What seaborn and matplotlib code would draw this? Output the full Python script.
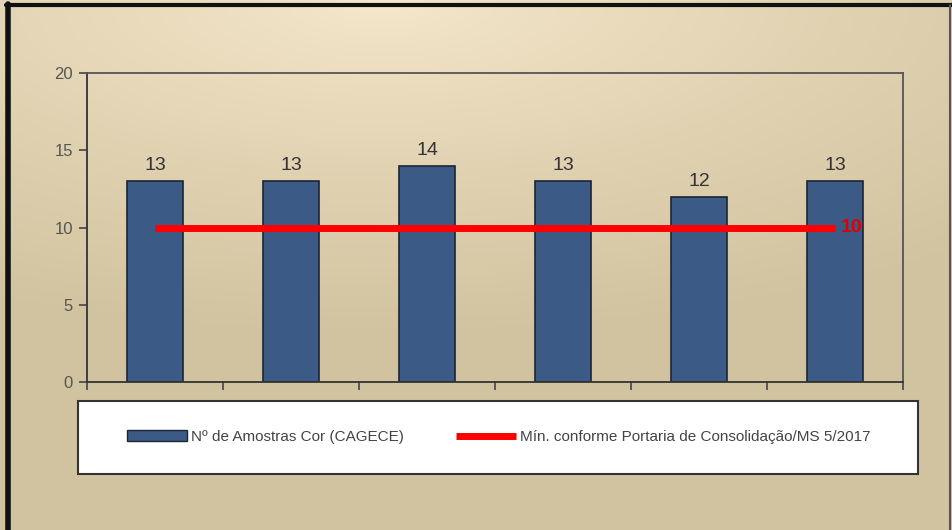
import matplotlib
matplotlib.use("Agg")
import matplotlib.pyplot as plt
import matplotlib.patches as mpatches
import matplotlib.lines as mlines
import numpy as np
import pandas as pd
import seaborn as sns

categories = ['1', '2', '3', '4', '5', '6']
amostras = [13, 13, 14, 13, 12, 13]
minimo = [10, 10, 10, 10, 10, 10]
label_bar = 'Nº de Amostras Cor (CAGECE)'
label_line = 'Mín. conforme Portaria de Consolidação/MS 5/2017'

sns.set_theme(style='white')
plt.rcParams['font.family'] = ['Liberation Sans', 'DejaVu Sans']

bar_color = '#3b5a86'
bg_light = np.array([0.965, 0.912, 0.800])
bg_dark = np.array([0.825, 0.768, 0.628])

fig = plt.figure(figsize=(9.53, 5.30), dpi=100)

# gradient background
bg = fig.add_axes([0, 0, 1, 1], zorder=-10)
yy, xx = np.mgrid[0:1:300j, 0:1:500j]
d = np.sqrt(((xx - 0.40) * 1.1) ** 2 + ((yy - 0.0) * 1.6) ** 2)
t = np.clip(d / 1.0, 0, 1) ** 0.8
img = bg_light[None, None, :] * (1 - t[..., None]) + bg_dark[None, None, :] * t[..., None]
bg.imshow(img, aspect='auto', extent=[0, 1, 0, 1], origin='upper')
bg.set_axis_off()

# frame lines of the picture
fig.add_artist(mlines.Line2D([0.008, 0.008], [0, 0.992], color='#111111', lw=4, transform=fig.transFigure))
fig.add_artist(mlines.Line2D([0.006, 1], [0.991, 0.991], color='#111111', lw=3, transform=fig.transFigure))
fig.add_artist(mlines.Line2D([0.997, 0.997], [0, 0.99], color='#555555', lw=1.5, transform=fig.transFigure))

ax = fig.add_axes([87 / 953, 1 - 382 / 530, 816 / 953, 309 / 530])
ax.patch.set_alpha(0)

df = pd.DataFrame({'cat': categories, 'amostras': amostras, 'minimo': minimo})
sns.barplot(data=df, x='cat', y='amostras', color=bar_color, width=0.41,
            saturation=1, edgecolor='#1c2535', linewidth=1.2, ax=ax)
ax.bar_label(ax.containers[0], fontsize=14, color='#333333', padding=5)

pos = np.arange(len(categories))
ax.plot(pos, df['minimo'], color='#ff0000', lw=5, solid_capstyle='butt', zorder=5)
ax.text(pos[-1] + 0.04, minimo[-1], str(minimo[-1]), color='#e00000',
        fontsize=14, fontweight='bold', va='center', ha='left', zorder=6)

ax.set_xlim(-0.5, len(categories) - 0.5)
ax.set_ylim(0, 20)
ax.set_yticks([0, 5, 10, 15, 20])
ax.set_xticks(np.arange(len(categories) + 1) - 0.5)
ax.set_xticklabels([])
ax.set_xlabel('')
ax.set_ylabel('')
ax.tick_params(axis='y', left=True, direction='out', length=6, width=1.2,
               color='#444444', labelsize=12, labelcolor='#555555', pad=4)
ax.tick_params(axis='x', bottom=True, direction='out', length=6, width=1.2, color='#444444')
for s in ax.spines.values():
    s.set_visible(True)
    s.set_color('#555555')
    s.set_linewidth(1.3)
ax.spines['left'].set_color('#333333')
ax.spines['bottom'].set_color('#333333')

# legend box
box = mpatches.FancyBboxPatch((78 / 953, 1 - 474 / 530), 840 / 953, 73 / 530,
                              boxstyle='square,pad=0', transform=fig.transFigure,
                              facecolor='white', edgecolor='#333333', lw=1.5, zorder=1)
fig.add_artist(box)
h1 = mpatches.Patch(facecolor=bar_color, edgecolor='#1c2535', lw=1)
h2 = mlines.Line2D([], [], color='#ff0000', lw=5, solid_capstyle='butt')
leg = fig.legend([h1, h2], [label_bar, label_line], loc='center',
                 bbox_to_anchor=(499 / 953, 1 - 437 / 530), ncol=2, frameon=False,
                 fontsize=11, handlelength=3.9, handletextpad=0.3, columnspacing=3.4,
                 labelcolor='#444444')
leg.set_zorder(2)

fig.savefig('out.png', dpi=100)
